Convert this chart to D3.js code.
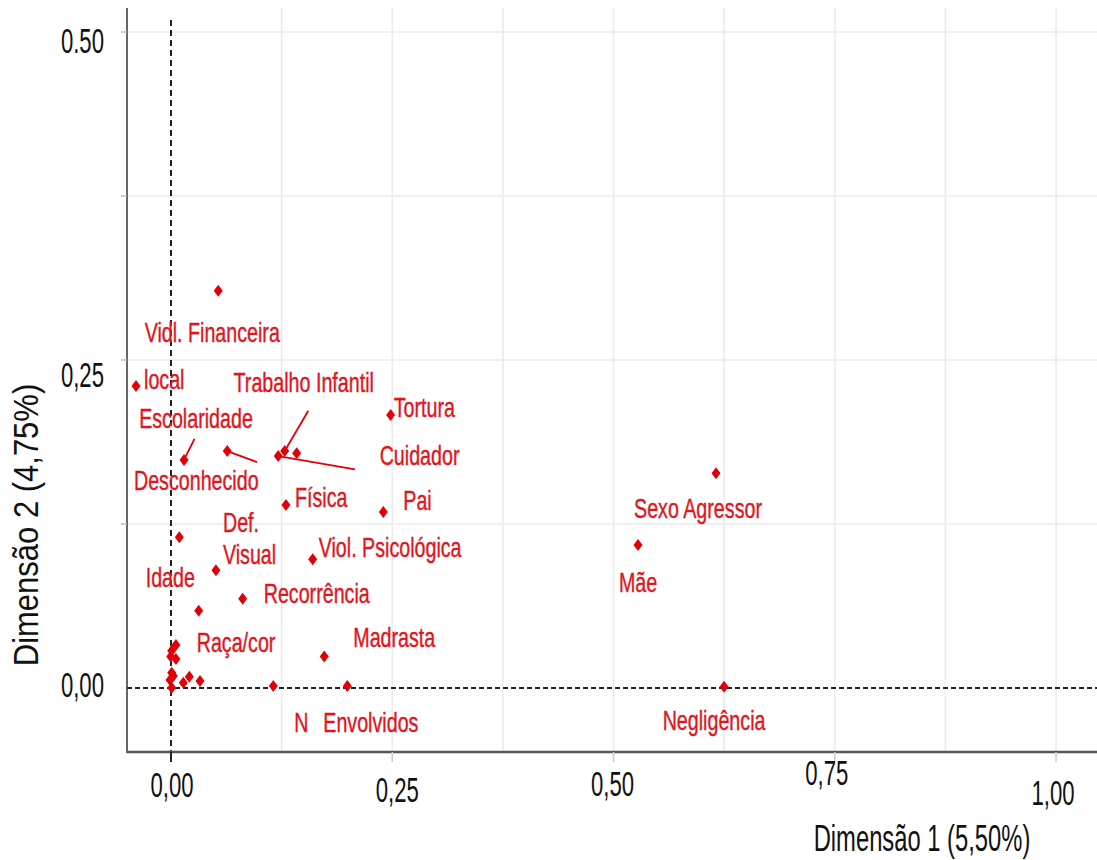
<!DOCTYPE html>
<html>
<head>
<meta charset="utf-8">
<script src="https://cdn.jsdelivr.net/npm/d3@7"></script>
<style>
  html, body { margin: 0; padding: 0; background: #fff; }
  svg { display: block; }
</style>
</head>
<body>
<div id="chart"></div>
<script>
// Coordinates of the categories on the first two dimensions
const pointX = [0.0534, -0.0395, 0.2482, 0.0147, 0.0636, 0.1212, 0.1285, 0.1420,
                0.6158, 0.1299, 0.2399, 0.0094, 0.5277, 0.1601, 0.0508, 0.0810,
                0.0313, 0.1732, 0.1156, 0.1992, 0.6249,
                0.0056, 0.0008, 0.0056, -0.0003, 0.0008, 0.0026, -0.0011, 0.0008,
                0.0139, 0.0207, 0.0328];
const pointY = [0.3028, 0.2302, 0.2081, 0.1738, 0.1806, 0.1768, 0.1806, 0.1789,
                0.1636, 0.1395, 0.1341, 0.1149, 0.1090, 0.0981, 0.0897, 0.0681,
                0.0589, 0.0239, 0.0015, 0.0015, 0.0010,
                0.0328, 0.0284, 0.0221, 0.0239, 0.0117, 0.0091, 0.0061, 0.0002,
                0.0040, 0.0086, 0.0053];

// Category names and the point each one belongs to
const labelText = ["Vidl. Financeira", "local", "Trabalho Infantil", "Tortura", "Escolaridade",
                   "Cuidador", "Desconhecido", "Física", "Pai", "Sexo Agressor", "Def.",
                   "Visual", "Idade", "Mãe", "Viol. Psicológica", "Recorrência", "Raça/cor",
                   "Madrasta", "N", "Envolvidos", "Negligência"];
const labelPoint = [0, 1, 6, 2, 3, 7, 4, 9, 10, 8, 14, 14, 11, 12, 13, 15, 16, 17, 18, 19, 20];

// Axis ticks and titles
const xTicks = [0, 0.25, 0.5, 0.75, 1.0];
const xTickText = ["0,00", "0,25", "0,50", "0,75", "1,00"];
const yTicks = [0, 0.25, 0.5];
const yTickText = ["0,00", "0,25", "0.50"];
const xTitle = "Dimensão 1 (5,50%)";
const yTitle = "Dimensão 2 (4,75%)";

// Label placement relative to its point (px): dx, dy, anchor
const labelNudge = [
  [-6, 51, "middle"], [8, 3, "start"], [19, -59, "middle"], [3, 2, "start"],
  [12, -32, "middle"], [83, 12, "start"], [-31, 39, "middle"], [9, 2, "start"],
  [20, -2, "start"], [-18, 45, "middle"], [7, -38, "start"], [7, -6, "start"],
  [-9, 50, "middle"], [0, 47, "middle"], [6, -2, "start"], [21, 4, "start"],
  [-2, 41, "start"], [29, -10, "start"], [28, 46, "middle"], [-24, 46, "start"],
  [-10, 43, "middle"]
];
// Leader lines: point index, end offset (px)
const leaders = [[3, 10.5, -21], [4, 29.7, 11], [6, 23.6, -40.3], [5, 76.7, 13.3]];
// Tick label nudges (px)
const xTickNudge = [[1, 0], [5, 5], [-1, -1], [-8, -12], [-3, 8]];
const yTickNudge = [-4, 14, 8];

const W = 1097, H = 860;
const FONT = "'Liberation Sans', Arial, sans-serif";
const NARROW = 0.82;   // horizontal condensing of the typeface
const RED_TEXT = "#e2141c";
const RED_PT = "#e20008";

const svg = d3.select("#chart").append("svg").attr("width", W).attr("height", H);

const x = d3.scaleLinear().domain([-0.0497, 1.0463]).range([127, 1097]);
const y = d3.scaleLinear().domain([-0.0488, 0.5183]).range([752, 8]);

function txt(parent, px, py, s, o) {
  const sx = (o.sx || 1) * NARROW;
  const g = parent.append("g")
    .attr("transform", `translate(${px},${py}) rotate(${o.rotate || 0}) scale(${sx},${o.sy || 1})`);
  g.append("text")
    .attr("text-anchor", o.anchor || "start")
    .style("font-family", FONT)
    .style("font-size", o.size + "px")
    .attr("fill", o.fill || "#111")
    .attr("stroke", o.fill || "#111")
    .attr("stroke-width", o.weight || 0)
    .text(s);
  return g;
}

// Grid
const grid = svg.append("g");
const xGrid = d3.range(0.125, 1.05, 0.125);
grid.selectAll("line.vx").data(xGrid).join("line")
  .attr("x1", d => x(d)).attr("x2", d => x(d))
  .attr("y1", y.range()[1]).attr("y2", y.range()[0])
  .attr("stroke", "#ebebeb").attr("stroke-width", 1.6);
const yGrid = [0.125, 0.25, 0.375, 0.5];
grid.selectAll("line.hy").data(yGrid).join("line")
  .attr("x1", x.range()[0]).attr("x2", x.range()[1])
  .attr("y1", d => y(d)).attr("y2", d => y(d))
  .attr("stroke", "#ebebeb").attr("stroke-width", 1.6);

// Reference lines at zero
svg.append("line")
  .attr("x1", x(0)).attr("x2", x(0)).attr("y1", y(0.5) - 12).attr("y2", y.range()[0])
  .attr("stroke", "#222").attr("stroke-width", 2).attr("stroke-dasharray", "6,4");
svg.append("line")
  .attr("x1", x.range()[0]).attr("x2", x.range()[1]).attr("y1", y(0)).attr("y2", y(0))
  .attr("stroke", "#222").attr("stroke-width", 2.2).attr("stroke-dasharray", "5,3");

// Axes lines and ticks
svg.append("line").attr("x1", x.range()[0]).attr("x2", x.range()[0])
  .attr("y1", y.range()[1]).attr("y2", y.range()[0] + 1)
  .attr("stroke", "#333").attr("stroke-width", 1.5);
svg.append("line").attr("x1", x.range()[0]).attr("x2", x.range()[1])
  .attr("y1", y.range()[0]).attr("y2", y.range()[0])
  .attr("stroke", "#555").attr("stroke-width", 2.5);
svg.selectAll("line.ytick").data(yGrid).join("line")
  .attr("x1", x.range()[0] - 6).attr("x2", x.range()[0])
  .attr("y1", d => y(d)).attr("y2", d => y(d))
  .attr("stroke", "#bbb").attr("stroke-width", 1.5);
svg.selectAll("line.xtick").data(xTicks).join("line")
  .attr("x1", d => x(d)).attr("x2", d => x(d))
  .attr("y1", y.range()[0]).attr("y2", y.range()[0] + 10)
  .attr("stroke", d => d === 0 ? "#222" : "#ccc").attr("stroke-width", d => d === 0 ? 2 : 1.5);

// Tick labels
xTicks.forEach((t, i) => {
  txt(svg, x(t) + xTickNudge[i][0], y.range()[0] + 45 + xTickNudge[i][1], xTickText[i],
      { size: 27, sy: 1.33, anchor: "middle", fill: "#111" });
});
yTicks.forEach((t, i) => {
  txt(svg, x.range()[0] - 23, y(t) + 13 + yTickNudge[i], yTickText[i],
      { size: 27, sy: 1.33, anchor: "end", fill: "#111" });
});

// Axis titles
txt(svg, 922, 851, xTitle, { size: 29, sy: 1.25, anchor: "middle", fill: "#111" });
txt(svg, 38, 525, yTitle, { size: 36, sx: 1.05, rotate: -90, anchor: "middle", fill: "#111" });

// Leader lines
svg.selectAll("line.leader").data(leaders).join("line")
  .attr("x1", d => x(pointX[d[0]])).attr("y1", d => y(pointY[d[0]]))
  .attr("x2", d => x(pointX[d[0]]) + d[1]).attr("y2", d => y(pointY[d[0]]) + d[2])
  .attr("stroke", RED_PT).attr("stroke-width", 1.8);

// Points as diamonds
const dw = 4.5, dh = 6;
svg.selectAll("path.pt").data(pointX.map((v, i) => [v, pointY[i]])).join("path")
  .attr("d", d => {
    const cx = x(d[0]), cy = y(d[1]);
    return `M${cx},${cy - dh}L${cx + dw},${cy}L${cx},${cy + dh}L${cx - dw},${cy}Z`;
  })
  .attr("fill", RED_PT);

// Category labels
labelText.forEach((s, i) => {
  const p = labelPoint[i], n = labelNudge[i];
  txt(svg, x(pointX[p]) + n[0], y(pointY[p]) + n[1], s,
      { size: 24, sy: 1.12, anchor: n[2], fill: RED_TEXT, weight: 0.35 });
});
</script>
</body>
</html>
